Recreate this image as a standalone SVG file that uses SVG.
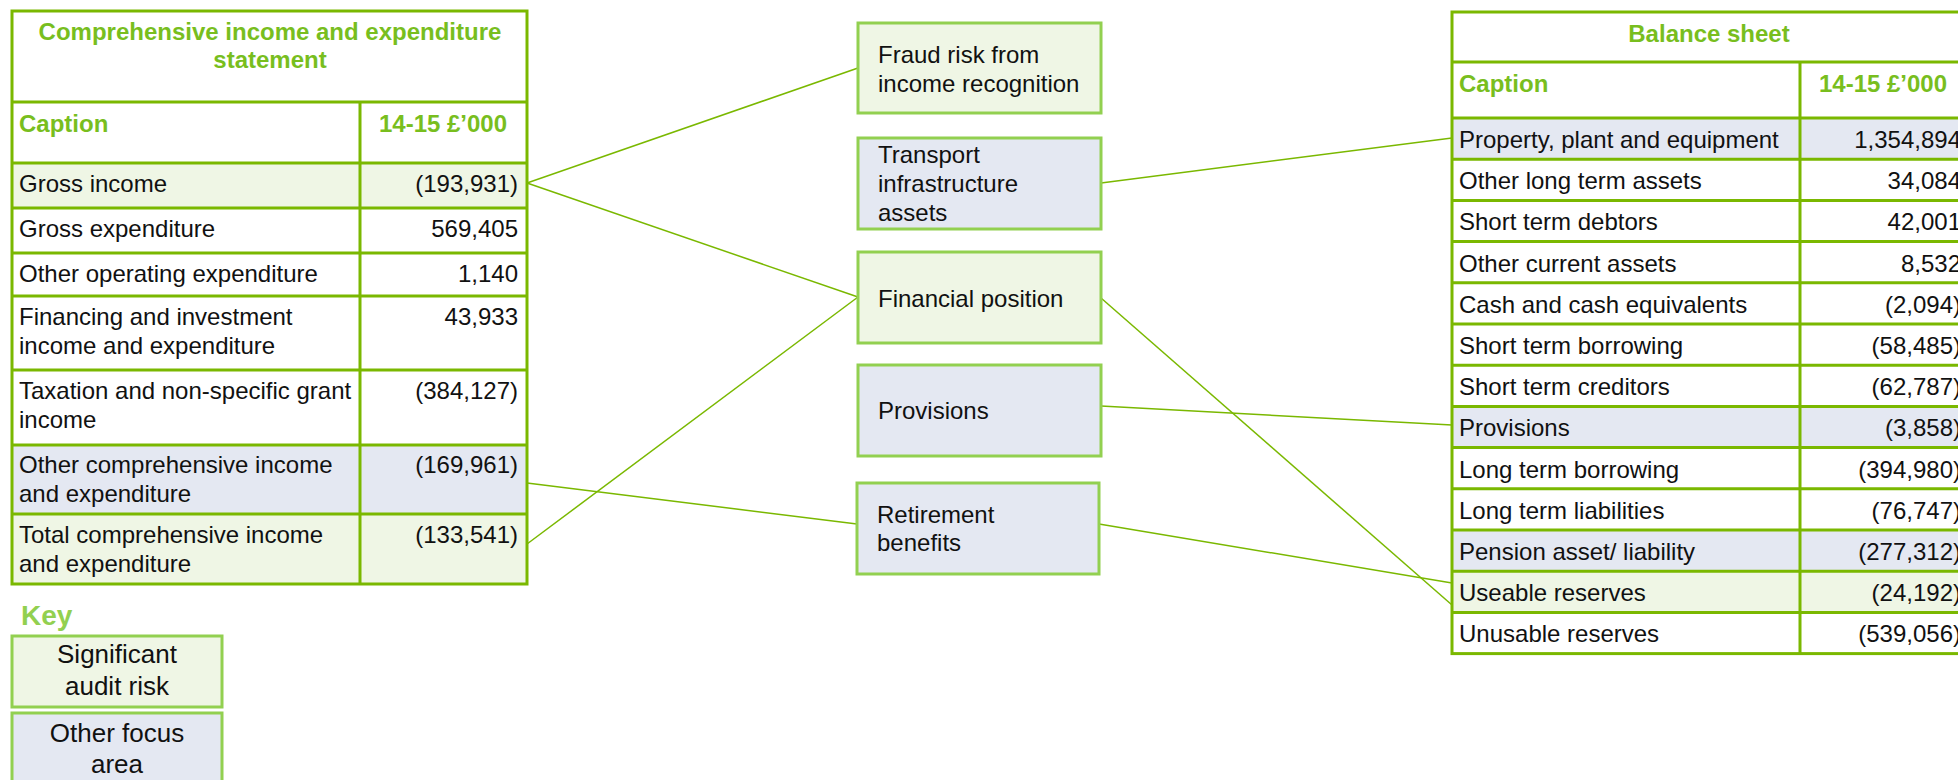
<svg xmlns="http://www.w3.org/2000/svg" width="1958" height="780" viewBox="0 0 1958 780">
<style>
text{font-family:"Liberation Sans",Arial,sans-serif;font-size:24px;fill:#111}
.hd{font-weight:bold;fill:#78BE1E}
.num{text-anchor:end}
.mid{text-anchor:middle}
.grid{stroke:#7AB800;stroke-width:3;fill:none}
.sig{fill:#EFF6E5}
.oth{fill:#E4E8F2}
.box{stroke:#92D050;stroke-width:3}
.key{font-size:26px;text-anchor:middle}
.conn{stroke:#7AB800;stroke-width:1.5;fill:none}
</style>
<rect width="1958" height="780" fill="#fff"/>

<g id="cies-table">
  <rect x="12" y="163" width="515" height="45" class="sig"/>
  <rect x="12" y="445" width="515" height="69" class="oth"/>
  <rect x="12" y="514" width="515" height="70" class="sig"/>
  <rect x="12" y="11" width="515" height="573" class="grid"/>
  <path class="grid" d="M12 102H527M12 163H527M12 208H527M12 253H527M12 296H527M12 370H527M12 445H527M12 514H527M360 102V584"/>
  <text class="hd mid" x="270" y="40">Comprehensive income and expenditure</text>
  <text class="hd mid" x="270" y="68">statement</text>
  <text class="hd" x="19" y="132">Caption</text>
  <text class="hd mid" x="443" y="132">14-15 £’000</text>
  <text x="19" y="192">Gross income</text><text class="num" x="518" y="192">(193,931)</text>
  <text x="19" y="237">Gross expenditure</text><text class="num" x="518" y="237">569,405</text>
  <text x="19" y="282">Other operating expenditure</text><text class="num" x="518" y="282">1,140</text>
  <text x="19" y="325">Financing and investment</text><text x="19" y="354">income and expenditure</text><text class="num" x="518" y="325">43,933</text>
  <text x="19" y="399">Taxation and non-specific grant</text><text x="19" y="428">income</text><text class="num" x="518" y="399">(384,127)</text>
  <text x="19" y="473">Other comprehensive income</text><text x="19" y="502">and expenditure</text><text class="num" x="518" y="473">(169,961)</text>
  <text x="19" y="543">Total comprehensive income</text><text x="19" y="572">and expenditure</text><text class="num" x="518" y="543">(133,541)</text>
</g>

<g id="key">
  <text x="21" y="625" style="font-size:28px;font-weight:bold;fill:#92D050">Key</text>
  <g id="key-significant">
    <rect x="12" y="636" width="210" height="71" class="sig box"/>
    <text class="key" x="117" y="663">Significant</text>
    <text class="key" x="117" y="695">audit risk</text>
  </g>
  <g id="key-other">
    <rect x="12" y="713" width="210" height="80" class="oth box"/>
    <text class="key" x="117" y="742">Other focus</text>
    <text class="key" x="117" y="773">area</text>
  </g>
</g>

<g id="connectors">
  <line class="conn" x1="527" y1="183" x2="858" y2="68"/>
  <line class="conn" x1="527" y1="183" x2="858" y2="297"/>
  <line class="conn" x1="527" y1="544" x2="858" y2="297"/>
  <line class="conn" x1="527" y1="483" x2="857" y2="524"/>
  <line class="conn" x1="1101" y1="183" x2="1452" y2="138"/>
  <line class="conn" x1="1101" y1="298" x2="1452" y2="605"/>
  <line class="conn" x1="1101" y1="406" x2="1452" y2="425"/>
  <line class="conn" x1="1099" y1="524" x2="1452" y2="583"/>
</g>

<g id="fraud-risk">
  <rect x="858" y="23" width="243" height="90" class="sig box"/>
  <text x="878" y="63">Fraud risk from</text>
  <text x="878" y="92">income recognition</text>
</g>
<g id="transport-assets">
  <rect x="858" y="138" width="243" height="91" class="oth box"/>
  <text x="878" y="163">Transport</text>
  <text x="878" y="192">infrastructure</text>
  <text x="878" y="221">assets</text>
</g>
<g id="financial-position">
  <rect x="858" y="252" width="243" height="91" class="sig box"/>
  <text x="878" y="307">Financial position</text>
</g>
<g id="provisions">
  <rect x="858" y="365" width="243" height="91" class="oth box"/>
  <text x="878" y="419">Provisions</text>
</g>
<g id="retirement-benefits">
  <rect x="857" y="483" width="242" height="91" class="oth box"/>
  <text x="877" y="523">Retirement</text>
  <text x="877" y="551">benefits</text>
</g>

<g id="balance-sheet">
  <rect x="1452" y="118" width="520" height="41.2" class="oth"/>
  <rect x="1452" y="406.4" width="520" height="41.2" class="oth"/>
  <rect x="1452" y="530" width="520" height="41.2" class="oth"/>
  <rect x="1452" y="571.2" width="520" height="41.2" class="sig"/>
  <rect x="1452" y="12" width="518" height="641.6" class="grid"/>
  <path class="grid" d="M1452 62H1970M1452 118H1970M1452 159.2H1970M1452 200.4H1970M1452 241.6H1970M1452 282.8H1970M1452 324H1970M1452 365.2H1970M1452 406.4H1970M1452 447.6H1970M1452 488.8H1970M1452 530H1970M1452 571.2H1970M1452 612.4H1970M1800 62V653.6"/>
  <text class="hd mid" x="1709" y="42">Balance sheet</text>
  <text class="hd" x="1459" y="92">Caption</text>
  <text class="hd mid" x="1883" y="92">14-15 £’000</text>
  <text x="1459" y="148">Property, plant and equipment</text><text class="num" x="1961" y="148">1,354,894</text>
  <text x="1459" y="189.2">Other long term assets</text><text class="num" x="1961" y="189.2">34,084</text>
  <text x="1459" y="230.4">Short term debtors</text><text class="num" x="1961" y="230.4">42,001</text>
  <text x="1459" y="271.6">Other current assets</text><text class="num" x="1961" y="271.6">8,532</text>
  <text x="1459" y="312.8">Cash and cash equivalents</text><text class="num" x="1961" y="312.8">(2,094)</text>
  <text x="1459" y="354">Short term borrowing</text><text class="num" x="1961" y="354">(58,485)</text>
  <text x="1459" y="395.2">Short term creditors</text><text class="num" x="1961" y="395.2">(62,787)</text>
  <text x="1459" y="436.4">Provisions</text><text class="num" x="1961" y="436.4">(3,858)</text>
  <text x="1459" y="477.6">Long term borrowing</text><text class="num" x="1961" y="477.6">(394,980)</text>
  <text x="1459" y="518.8">Long term liabilities</text><text class="num" x="1961" y="518.8">(76,747)</text>
  <text x="1459" y="560">Pension asset/ liability</text><text class="num" x="1961" y="560">(277,312)</text>
  <text x="1459" y="601.2">Useable reserves</text><text class="num" x="1961" y="601.2">(24,192)</text>
  <text x="1459" y="642.4">Unusable reserves</text><text class="num" x="1961" y="642.4">(539,056)</text>
</g>
</svg>
